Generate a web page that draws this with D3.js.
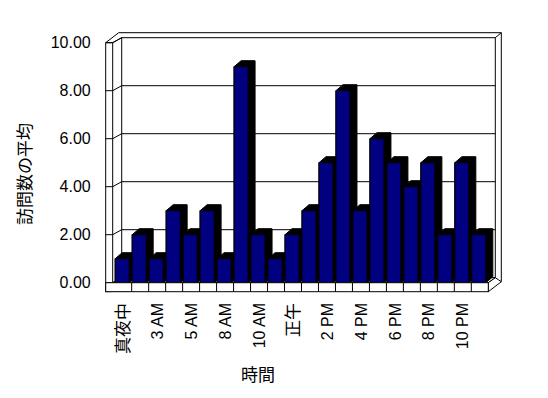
<!DOCTYPE html>
<html>
<head>
<meta charset="utf-8">
<script src="https://cdn.jsdelivr.net/npm/d3@7"></script>
<style>
  body { margin: 0; background: #fff; }
  text { font-family: "Liberation Sans", "Noto Sans CJK JP", sans-serif; fill: #000; }
</style>
</head>
<body>
<div id="chart"></div>
<script>
(function () {

  // Data

  var hours = ["真夜中", "2 AM", "3 AM", "4 AM", "5 AM", "7 AM", "8 AM", "9 AM", "10 AM", "11 AM", "正午",
               "1 PM", "2 PM", "3 PM", "4 PM", "5 PM", "6 PM", "7 PM", "8 PM", "9 PM", "10 PM", "11 PM"]
  var visits = [1, 2, 1, 3, 2, 3, 1, 9, 2, 1, 2, 3, 5, 8, 3, 6, 5, 4, 5, 2, 5, 2]
  var yTicks = [0, 2, 4, 6, 8, 10]
  var xTitle = "時間"
  var yTitle = "訪問数の平均"

  // Create the SVG

  var width = 548, height = 398

  var svg = d3.select("#chart").append("svg")
      .attr("width", width)
      .attr("height", height)

  // Scales

  var x = d3.scaleBand()
    .domain(hours)
    .range([114.7, 488.3])

  var y = d3.scaleLinear()
    .domain([0, 10])
    .range([282.7, 42.7])

  // 3d offsets

  var wall = { dx: 7, dy: -5 }    // front edge -> back wall
  var thick = { dx: 6, dy: -5 }   // back wall thickness
  var bar = { w: 14, dx: 7, dy: -6 }

  var x0 = x.range()[0], x1 = x.range()[1]
  var y0 = y(0), yTop = y(10)
  var outerL = x0 - 9, innerL = x0 - 2, floorB = y0 + 9
  var backL = x0 + wall.dx, backR = x1 + wall.dx

  var frame = svg.append("g")
    .attr("fill", "#fff")
    .attr("stroke", "#000")
    .attr("stroke-width", 1)

  // outer shell of the walls
  frame.append("path")
    .attr("d", "M" + outerL + "," + floorB +
      "V" + yTop +
      "L" + (outerL + wall.dx + thick.dx) + "," + (yTop + wall.dy + thick.dy) +
      "H" + (backR + thick.dx) +
      "V" + (floorB + wall.dy + thick.dy) + "Z")

  // inner back wall
  frame.append("rect")
    .attr("x", backL)
    .attr("y", yTop + wall.dy)
    .attr("width", backR - backL)
    .attr("height", y0 - yTop)

  frame.append("path")
    .attr("fill", "none")
    .attr("d", "M" + innerL + "," + y0 + "V" + yTop + "L" + backL + "," + (yTop + wall.dy) +
      "M" + outerL + "," + yTop + "H" + innerL +
      "M" + backR + "," + (yTop + wall.dy) + "l" + thick.dx + "," + thick.dy)

  // gridlines on the back wall
  frame.selectAll(".grid")
    .data(yTicks.slice(1, -1))
    .enter().append("line")
    .attr("class", "grid")
    .attr("x1", backL)
    .attr("x2", backR)
    .attr("y1", function (d) { return y(d) + wall.dy })
    .attr("y2", function (d) { return y(d) + wall.dy })

  // tick marks on the side wall
  frame.selectAll(".sidetick")
    .data(yTicks)
    .enter().append("path")
    .attr("class", "sidetick")
    .attr("fill", "none")
    .attr("d", function (d) {
      return "M" + outerL + "," + y(d) + "H" + innerL + "L" + backL + "," + (y(d) + wall.dy)
    })

  // floor top
  frame.append("path")
    .attr("d", "M" + innerL + "," + y0 + "H" + x1 + "L" + backR + "," + (y0 + wall.dy) +
      "H" + backL + "Z")

  // Bars

  var bars = svg.selectAll(".bar")
    .data(visits)
    .enter().append("g")
    .attr("class", "bar")
    .attr("transform", function (d, i) { return "translate(" + (x(hours[i]) + 0.5) + ",0)" })

  bars.append("path")
    .attr("fill", "#000")
    .attr("stroke", "#000")
    .attr("d", function (d) {
      return "M0," + y(d) + "l" + bar.dx + "," + bar.dy + "h" + bar.w +
        "V" + (y0 + bar.dy) + "l" + (-bar.dx) + "," + (-bar.dy) + "H0Z"
    })

  bars.append("rect")
    .attr("x", 0)
    .attr("y", function (d) { return y(d) })
    .attr("width", bar.w)
    .attr("height", function (d) { return y0 - y(d) })
    .attr("fill", "#000080")
    .attr("stroke", "#000")

  // floor front and right side

  var floor = svg.append("g")
    .attr("fill", "#fff")
    .attr("stroke", "#000")

  floor.append("path")
    .attr("d", "M" + x1 + "," + y0 + "L" + backR + "," + (y0 + wall.dy) +
      "L" + (backR + thick.dx) + "," + (floorB + wall.dy + thick.dy) +
      "L" + x1 + "," + floorB + "Z")

  floor.append("rect")
    .attr("x", outerL)
    .attr("y", y0)
    .attr("width", x1 - outerL)
    .attr("height", floorB - y0)

  floor.selectAll(".floortick")
    .data(hours.slice(1))
    .enter().append("line")
    .attr("class", "floortick")
    .attr("x1", function (d) { return x(d) })
    .attr("x2", function (d) { return x(d) })
    .attr("y1", y0)
    .attr("y2", floorB)

  // Axes

  var yAxis = d3.axisLeft(y)
    .tickValues(yTicks)
    .tickFormat(d3.format(".2f"))
    .tickSize(0)
    .tickPadding(15)

  svg.append("g")
    .attr("transform", "translate(" + outerL + ",0)")
    .call(yAxis)
    .call(function (g) { g.select(".domain").remove() })
    .selectAll("text")
    .style("font-size", "16px")

  var xAxis = d3.axisBottom(x)
    .tickValues(hours.filter(function (d, i) { return i % 2 === 0 }))
    .tickSize(0)
    .tickPadding(0)

  svg.append("g")
    .attr("transform", "translate(0,303)")
    .call(xAxis)
    .call(function (g) { g.select(".domain").remove() })
    .selectAll("text")
    .attr("y", 0)
    .attr("dy", "0.35em")
    .attr("transform", "rotate(-90)")
    .attr("text-anchor", "end")
    .style("font-size", function (d) { return /[^\x00-\x7f]/.test(d) ? "17px" : "16px" })

  // Titles

  svg.append("text")
    .attr("x", 258)
    .attr("y", 375.5)
    .attr("dy", "0.35em")
    .attr("text-anchor", "middle")
    .style("font-size", "17px")
    .text(xTitle)

  svg.append("text")
    .attr("transform", "translate(25.5,174) rotate(-90)")
    .attr("dy", "0.35em")
    .attr("text-anchor", "middle")
    .style("font-size", "17px")
    .text(yTitle)

})()
</script>
</body>
</html>
